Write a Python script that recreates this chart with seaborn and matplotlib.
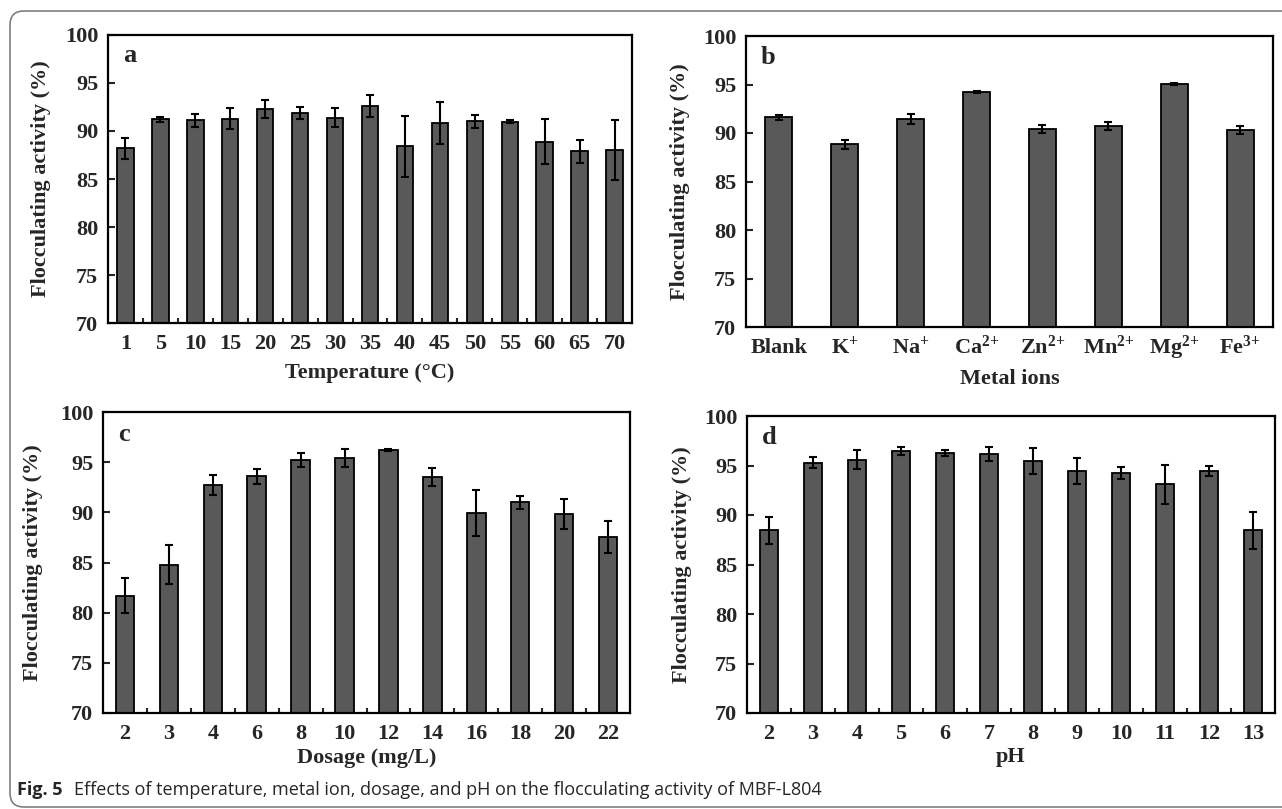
import numpy as np
import pandas as pd
import matplotlib
matplotlib.use('Agg')
import matplotlib.pyplot as plt
import matplotlib.transforms as mtransforms
from matplotlib.patches import FancyBboxPatch
import seaborn as sns

# --- data (mean, sd) ---
temp_labels = ['1', '5', '10', '15', '20', '25', '30', '35', '40', '45', '50', '55', '60', '65', '70']
temp_mean = [88.2, 91.2, 91.1, 91.3, 92.3, 91.9, 91.4, 92.6, 88.4, 90.8, 91.0, 90.95, 88.9, 87.9, 88.0]
temp_sd = [1.1, 0.3, 0.65, 1.1, 0.9, 0.65, 1.0, 1.1, 3.2, 2.2, 0.65, 0.15, 2.3, 1.2, 3.1]

ion_labels = ['Blank', 'K$^{{+}}$', 'Na$^{{+}}$', 'Ca$^{2{+}}$', 'Zn$^{2{+}}$', 'Mn$^{2{+}}$', 'Mg$^{2{+}}$', 'Fe$^{3{+}}$']
ion_mean = [91.6, 88.85, 91.45, 94.2, 90.4, 90.7, 95.1, 90.3]
ion_sd = [0.25, 0.45, 0.5, 0.1, 0.45, 0.4, 0.1, 0.4]

dose_labels = ['2', '3', '4', '6', '8', '10', '12', '14', '16', '18', '20', '22']
dose_mean = [81.7, 84.8, 92.7, 93.6, 95.2, 95.4, 96.2, 93.5, 89.9, 91.0, 89.8, 87.5]
dose_sd = [1.75, 1.95, 1.0, 0.75, 0.7, 0.9, 0.1, 0.9, 2.3, 0.65, 1.5, 1.6]

ph_labels = ['2', '3', '4', '5', '6', '7', '8', '9', '10', '11', '12', '13']
ph_mean = [88.45, 95.3, 95.6, 96.5, 96.3, 96.2, 95.45, 94.45, 94.2, 93.1, 94.45, 88.45]
ph_sd = [1.35, 0.6, 1.0, 0.4, 0.3, 0.7, 1.3, 1.35, 0.6, 2.0, 0.5, 1.9]

sns.set_theme(style='white')
plt.rcParams['font.family'] = ['Liberation Serif', 'DejaVu Serif']
plt.rcParams['mathtext.default'] = 'regular'

BAR = '#595959'
W, H = 1282, 809
FS = 16


def panel(ax, box, labels, means, sds, letter, xlabel, width, xlab_off, ylab_off, minor=True):
    wpx = box[2] - box[0]
    hpx = box[3] - box[1]
    df = pd.DataFrame({'x': labels, 'y': means})
    sns.barplot(data=df, x='x', y='y', order=labels, ax=ax, color=BAR,
                saturation=1, edgecolor='black', linewidth=1.3, width=width)
    n = len(labels)
    ax.errorbar(np.arange(n), means, yerr=sds, fmt='none', ecolor='black',
                elinewidth=1.5, capsize=3, capthick=1.5, zorder=5)
    ax.set_ylim(70, 100)
    ax.set_xlim(-0.5, n - 0.5)
    ax.set_yticks(np.arange(70, 101, 5))
    for s in ax.spines.values():
        s.set_linewidth(1.6)
        s.set_color('black')
    ax.tick_params(axis='y', direction='in', length=5, width=1.5, pad=7,
                   labelsize=FS, left=True)
    ax.tick_params(axis='x', which='major', length=0, pad=19, labelsize=FS)
    if minor:
        ax.set_xticks(np.arange(n - 1) + 0.5, minor=True)
        ax.tick_params(axis='x', which='minor', direction='in', length=3.5,
                       width=1.5, bottom=True)
    ax.set_xlabel(xlabel, fontsize=FS, fontweight='bold')
    ax.set_ylabel('Flocculating activity (%)', fontsize=FS, fontweight='bold')
    ax.xaxis.label.set_va('center')
    ax.xaxis.set_label_coords(0.5, -xlab_off / hpx)
    ax.yaxis.label.set_va('center')
    ax.yaxis.set_label_coords(-ylab_off / wpx, 0.5)
    for t in ax.get_yticklabels():
        t.set_fontweight('bold')
    for t in ax.get_xticklabels():
        t.set_fontweight('bold')
        t.set_va('baseline')
    ax.text(0.028, 0.905, letter, transform=ax.transAxes, fontsize=19,
            fontweight='bold', va='baseline', ha='left')


fig = plt.figure(figsize=(12.82, 8.09), dpi=100)


def add_ax(box):
    x0, y0, x1, y1 = box
    return fig.add_axes([x0 / W, 1 - y1 / H, (x1 - x0) / W, (y1 - y0) / H])


box_a = (108, 35, 632, 323)
box_b = (746, 36, 1273, 327)
box_c = (103, 412, 630, 713)
box_d = (747, 416, 1275, 713)
ax_a, ax_b, ax_c, ax_d = [add_ax(b) for b in (box_a, box_b, box_c, box_d)]

panel(ax_a, box_a, temp_labels, temp_mean, temp_sd, 'a', 'Temperature (\u00b0C)', 0.47, 50, 67)
panel(ax_b, box_b, ion_labels, ion_mean, ion_sd, 'b', 'Metal ions', 0.41, 52, 66, minor=False)
panel(ax_c, box_c, dose_labels, dose_mean, dose_sd, 'c', 'Dosage (mg/L)', 0.42, 45, 70)
panel(ax_d, box_d, ph_labels, ph_mean, ph_sd, 'd', 'pH', 0.42, 44, 65)

# rounded frame around the figure
frame = FancyBboxPatch((10, 2), 1300, 796, boxstyle='round,pad=0,rounding_size=14',
                       transform=mtransforms.IdentityTransform(),
                       facecolor='none', edgecolor='#7f7f7f', linewidth=1.2)
fig.patches.append(frame)

# caption
cap_font = ['Open Sans', 'DejaVu Sans']
t1 = fig.text(17 / W, 1 - 799 / H, 'Fig. 5', fontsize=13, fontweight='bold',
              family=cap_font, va='bottom', ha='left')
ax_c.annotate('Effects of temperature, metal ion, dosage, and pH on the flocculating activity of MBF-L804',
              xy=(1, 0), xycoords=t1, xytext=(8, 0), textcoords='offset points',
              fontsize=13, family=cap_font, va='bottom', ha='left',
              annotation_clip=False)

fig.savefig('out.png', dpi=100)
